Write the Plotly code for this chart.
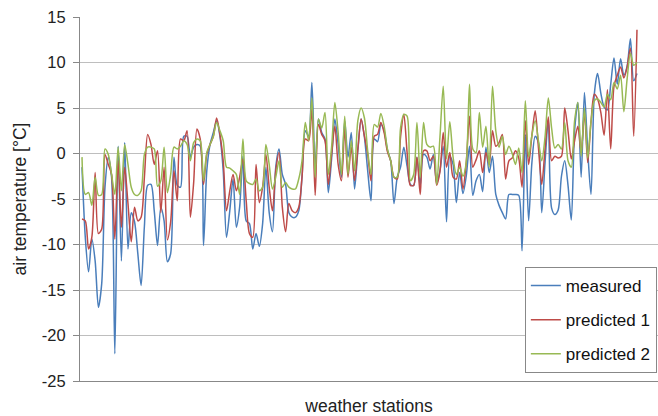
import plotly.graph_objects as go

# Air temperature at each weather station [°C]
measured = [
    -1.5, -9.2, -13.0, -9.4, -11.8, -16.9, -14.3, -3.7, -0.4, -2.6, -22.0, 0.8, -11.8, 1.2, -10.5, -6.5, -7.5, -11.0, -14.5, -8.0, -3.5,
    -3.4, -6.3, -10.1, -5.9, -7.4, -11.9, -11.0, -0.4, -3.5, -3.7, 1.9, 1.9, -0.4, 0.7, 1.0, 0.8, -10.1, -1.9, 1.0, 2.3, 3.6, 1.9,
    -1.9, -9.2, -6.3, -2.8, -8.1, -5.9, -0.3, -7.4, -7.7, -10.5, -8.8, -10.2, -7.7, -1.5, -6.5, -8.6, -1.5, 0.5, -2.3, -3.4, -6.5, -7.0,
    -7.0, -6.3, -2.6, 2.5, 1.9, 7.8, -1.5, 3.8, 2.3, 1.6, -4.3, -0.6, 3.8, 1.0, -2.6, 3.6, -0.4, 2.3, -3.9, 0.3, 3.8, 1.8,
    -1.9, -5.2, 1.6, 1.3, 3.2, 2.5, 0.4, -0.8, -5.5, -2.6, -1.5, 0.7, -1.4, -3.4, -3.5, -0.4, -3.5, -0.1, -0.4, -1.7, -0.1, -3.2,
    -1.9, 0.8, -7.5, -0.3, -1.2, -5.4, -2.1, -4.4, -2.5, 0.8, -4.6, -3.0, -2.3, -4.2, 0.7, -2.1, -0.3, -4.5, -5.7, -6.5, -7.2, -4.5,
    -4.5, -4.5, -4.6, -10.7, 2.1, -7.4, -1.0, 1.9, 1.2, -6.5, -1.0, 3.7, -6.0, -6.7, -6.2, -2.5, -0.8, -3.5, -7.3, 2.5, 5.6, -2.6,
    6.7, 0.3, -4.5, 6.5, 8.8, 6.6, 5.1, 4.8, 7.6, 10.5, 7.6, 10.4, 8.6, 9.6, 12.6, 8.0, 8.8,
]

predicted_1 = [
    -7.2, -7.4, -10.5, -9.2, -2.1, -8.8, -8.3, -0.1, -1.2, -2.3, -9.4, -0.8, -8.1, -1.5, -5.5, -9.7, -5.9, -7.4, -7.0, -2.6, 2.1,
    1.0, -1.2, 0.3, -6.5, -1.5, -9.5, -7.5, -1.9, -5.2, 1.6, 1.4, 2.5, -7.0, -3.2, 2.7, 1.6, -3.4, -0.1, 1.0, 1.9, 3.9, 2.1,
    -0.8, -6.3, -4.1, -2.3, -4.1, -2.6, -0.6, -5.2, -8.8, -9.2, -1.2, -5.4, -3.7, -0.1, -3.7, -6.3, -1.9, 0.1, -5.9, -8.6, -5.5, -6.3,
    -6.5, -5.9, -2.6, 1.6, 1.4, 4.9, -4.6, 3.2, 2.1, 1.4, -3.4, -0.1, 3.0, -1.2, -3.0, 2.7, -2.6, 0.7, -3.0, 0.5, 3.8, 1.9,
    -0.1, -3.0, 1.9, 2.1, 3.4, 2.3, 0.2, -0.8, -2.6, -2.8, 1.8, 4.3, 0.1, -3.5, -3.5, -0.4, -4.5, 0.3, 0.3, -0.8, -0.3, -3.5,
    -2.0, 2.3, -1.5, 0.1, -2.6, -2.8, -0.8, -3.9, -1.0, 4.1, -1.5, -0.7, 0.3, -2.1, 0.1, -1.2, 2.5, 0.8, 1.2, 2.1, -2.8, -0.8,
    -0.5, 0.3, -0.5, -3.7, 3.6, -1.2, 2.0, 4.7, 0.6, -3.4, 0.5, 4.0, -0.8, -0.3, -0.5, -0.3, 5.0, 2.5, -0.6, 1.4, 3.0, 0.1,
    4.5, -1.0, 3.5, 6.5, 6.0, 4.5, 2.0, 7.0, 0.5, 7.4, 8.6, 9.5, 8.3, 9.5, 11.6, 1.9, 13.6,
]

predicted_2 = [
    -0.4, -4.5, -4.3, -5.7, -2.6, -4.6, -4.5, 0.5, -0.1, -2.3, -4.5, 0.7, -4.1, 1.0, -1.2, -3.7, -4.5, -4.6, -4.1, -0.1, 0.7,
    0.7, 0.5, -3.6, -3.0, 0.7, -4.3, -2.3, 0.7, 0.5, 0.8, 1.4, 1.0, -0.8, 1.2, 1.6, 1.4, -3.0, 0.1, 1.0, 1.9, 3.4, 2.5,
    1.4, -1.5, -1.6, -1.9, -2.3, -4.5, 1.6, -3.0, -3.3, -3.4, -2.8, -4.1, -3.7, 1.0, -1.2, -3.9, -2.6, -0.8, -3.7, -3.2, -3.7, -3.9,
    -3.9, -2.8, -0.8, 3.4, 1.4, 6.1, -2.6, 3.8, 2.8, 4.5, -2.3, 0.7, 5.6, 2.3, -2.3, 4.1, -2.3, 1.4, -1.9, 3.6, 5.0, 3.9,
    0.3, -2.3, 3.2, 2.9, 4.4, 3.0, 0.5, -0.8, -2.6, -2.6, 2.8, 4.3, 4.1, -3.0, -2.3, 3.4, -2.6, 3.4, 1.0, 0.7, 0.8, -3.4,
    1.8, 7.4, -0.6, 3.5, -0.4, -2.3, -1.5, -2.5, -1.0, 7.6, 0.5, 0.1, 4.5, 0.7, 3.0, -1.5, 7.4, 2.5, 0.7, 1.9, -0.1, 0.8,
    0.0, -1.2, 0.6, -2.1, 5.8, -0.4, 2.0, 3.6, 1.4, -0.8, 1.8, 6.1, 2.8, 0.6, 1.0, 0.5, 3.4, -0.8, -1.5, 3.6, 5.6, -0.3,
    5.0, -0.5, 3.5, 5.8, 6.0, 5.6, 5.1, 6.5, 5.9, 7.8, 7.1, 8.6, 4.6, 8.2, 11.0, 9.7, 10.0,
]

stations = list(range(len(measured)))
y_ticks = [15, 10, 5, 0, -5, -10, -15, -20, -25]
y_tick_labels = [str(v) for v in y_ticks]

series = [
    ("measured", measured, "#4A7EBB"),
    ("predicted 1", predicted_1, "#BE4B48"),
    ("predicted 2", predicted_2, "#98B954"),
]

font_family = "Liberation Sans, Arial, sans-serif"

fig = go.Figure()
for name, values, color in series:
    fig.add_trace(go.Scatter(
        x=stations, y=values, name=name, mode="lines",
        line=dict(color=color, width=1.5, shape="spline", smoothing=0.8),
        legendgroup=name,
    ))

n = len(stations)
fig.update_layout(
    width=658, height=416,
    margin=dict(l=80, r=0, t=17, b=35),
    paper_bgcolor="white", plot_bgcolor="white",
    font=dict(family=font_family, size=16, color="#222222"),
    showlegend=True,
    legend=dict(
        x=0.998, y=0.313, xanchor="right", yanchor="top",
        bgcolor="white", bordercolor="#888888", borderwidth=1,
        font=dict(size=17, color="#111111"),
        tracegroupgap=9, itemwidth=30,
    ),
    xaxis=dict(
        range=[-0.61, n - 1 + 6.4],
        showticklabels=False, ticks="", showgrid=False, zeroline=False,
        showline=True, linecolor="#888888", linewidth=1,
        title=dict(text="weather stations", standoff=19, font=dict(size=17.5)),
    ),
    yaxis=dict(
        range=[-25, 15], tickvals=y_ticks, ticktext=y_tick_labels,
        ticks="outside", ticklen=6, tickcolor="#888888",
        ticklabelstandoff=4,
        showgrid=True, gridcolor="#BEBEBE", gridwidth=1, zeroline=False,
        showline=True, linecolor="#888888", linewidth=1,
        tickfont=dict(size=16.5),
        title=dict(text="air temperature [°C]", standoff=10, font=dict(size=17.5)),
    ),
)

fig.write_html("out.html")
